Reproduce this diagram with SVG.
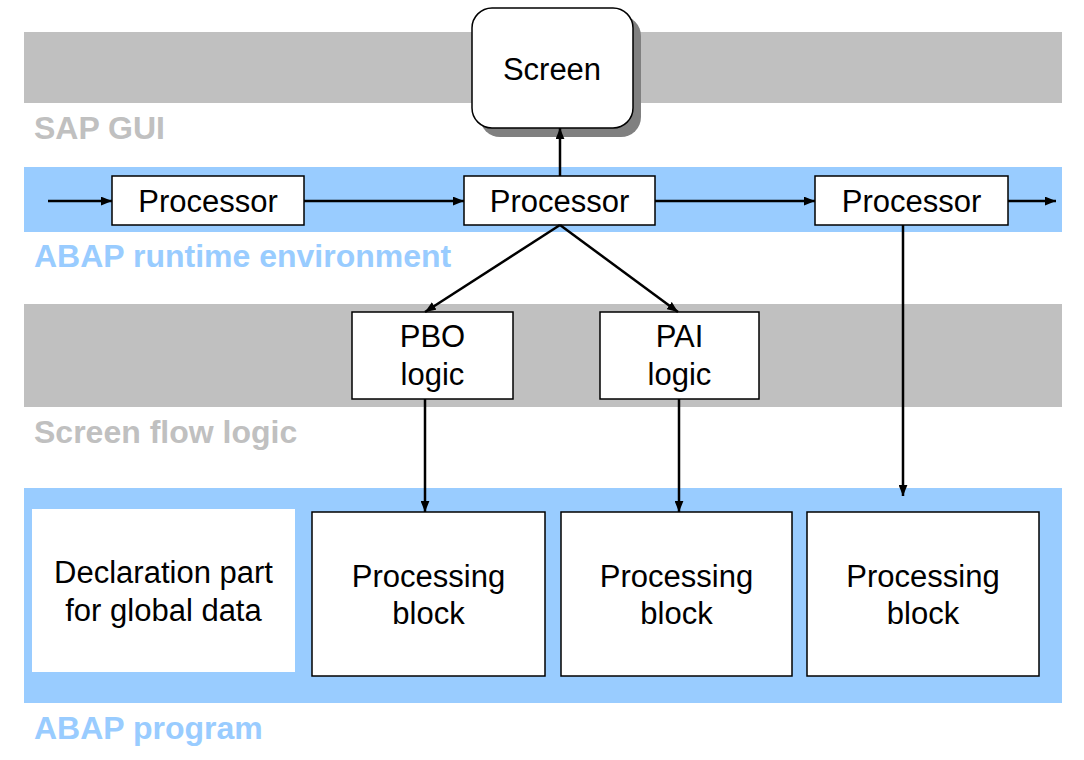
<svg xmlns="http://www.w3.org/2000/svg" width="1084" height="760" viewBox="0 0 1084 760">
<style>
.band-gray{fill:#C0C0C0}
.band-blue{fill:#99CCFF}
.box{fill:#FFFFFF;stroke:#000;stroke-width:1.5}
.t{font-family:"Liberation Sans",Arial,sans-serif;font-size:31px;fill:#000;text-anchor:middle}
.lbl{font-family:"Liberation Sans",Arial,sans-serif;font-size:32px;font-weight:bold}
.lg{fill:#C0C0C0}
.lb{fill:#99CCFF}
.c{stroke:#000;stroke-width:2.5;fill:none;marker-end:url(#ah)}
</style>
<defs>
<marker id="ah" viewBox="0 0 10 8" refX="10" refY="4" markerWidth="11" markerHeight="9" markerUnits="userSpaceOnUse" orient="auto">
<path d="M0,0 L10,4 L0,8 Z" fill="#000"/>
</marker>
</defs>
<rect width="1084" height="760" fill="#FFFFFF"/>
<g id="layers">
<rect class="band-gray" x="24" y="32" width="1038" height="71"/>
<text class="lbl lg" x="34" y="139">SAP GUI</text>
<rect class="band-blue" x="24" y="167" width="1038" height="65"/>
<text class="lbl lb" x="34" y="267">ABAP runtime environment</text>
<rect class="band-gray" x="24" y="304" width="1038" height="103"/>
<text class="lbl lg" x="34" y="443">Screen flow logic</text>
<rect class="band-blue" x="24" y="488" width="1038" height="215"/>
<text class="lbl lb" x="34" y="739">ABAP program</text>
</g>
<g id="screen">
<rect x="480" y="16" width="161" height="121" rx="20" fill="#808080"/>
<rect class="box" x="472" y="8" width="161" height="120" rx="20"/>
<text class="t" x="552" y="80">Screen</text>
</g>
<g id="processor1">
<rect class="box" x="112" y="176" width="192" height="49"/>
<text class="t" x="208" y="212">Processor</text>
</g>
<g id="processor2">
<rect class="box" x="464" y="176" width="191" height="49"/>
<text class="t" x="559.5" y="212">Processor</text>
</g>
<g id="processor3">
<rect class="box" x="815" y="176" width="193" height="49"/>
<text class="t" x="911.5" y="212">Processor</text>
</g>
<g id="pbo">
<rect class="box" x="352" y="312" width="161" height="87"/>
<text class="t" x="432.5" y="347">PBO</text>
<text class="t" x="432.5" y="385">logic</text>
</g>
<g id="pai">
<rect class="box" x="600" y="312" width="159" height="87"/>
<text class="t" x="679.5" y="347">PAI</text>
<text class="t" x="679.5" y="385">logic</text>
</g>
<g id="declaration">
<rect x="32" y="509" width="263" height="163" fill="#FFFFFF"/>
<text class="t" x="163.5" y="583">Declaration part</text>
<text class="t" x="163.5" y="621">for global data</text>
</g>
<g id="block1">
<rect class="box" x="312" y="512" width="233" height="164"/>
<text class="t" x="428.5" y="587">Processing</text>
<text class="t" x="428.5" y="624">block</text>
</g>
<g id="block2">
<rect class="box" x="561" y="512" width="231" height="164"/>
<text class="t" x="676.5" y="587">Processing</text>
<text class="t" x="676.5" y="624">block</text>
</g>
<g id="block3">
<rect class="box" x="807" y="512" width="232" height="164"/>
<text class="t" x="923" y="587">Processing</text>
<text class="t" x="923" y="624">block</text>
</g>
<g id="connectors">
<line class="c" x1="48" y1="201" x2="112" y2="201"/>
<line class="c" x1="304" y1="201" x2="464" y2="201"/>
<line class="c" x1="655" y1="201" x2="815" y2="201"/>
<line class="c" x1="1008" y1="201" x2="1056" y2="201"/>
<line class="c" x1="560" y1="176" x2="560" y2="128"/>
<line class="c" x1="560" y1="225" x2="425" y2="312"/>
<line class="c" x1="560" y1="225" x2="678" y2="312"/>
<line class="c" x1="425" y1="399" x2="425" y2="512"/>
<line class="c" x1="679" y1="399" x2="679" y2="512"/>
<line class="c" x1="903" y1="225" x2="903" y2="496"/>
</g>
</svg>
